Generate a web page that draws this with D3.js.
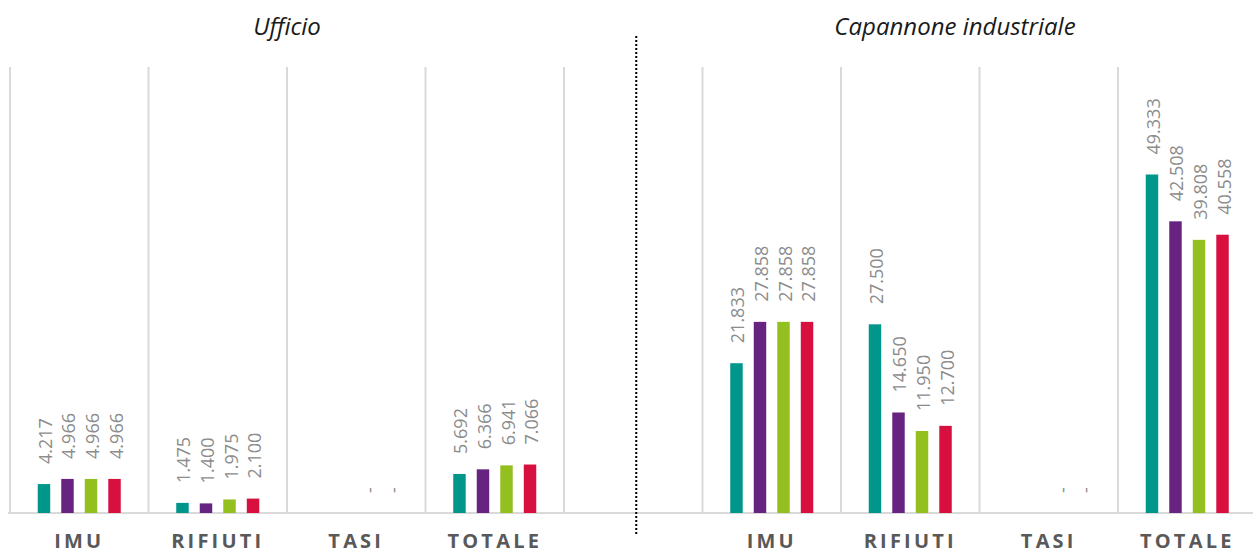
<!DOCTYPE html>
<html><head><meta charset="utf-8">
<script src="https://cdn.jsdelivr.net/npm/d3@7"></script>
<style>
body{margin:0;background:#fff;}
svg{display:block;}
</style></head>
<body>
<svg id="chart" width="1253" height="551"></svg>
<script>
// ---- data ----
const groupTitles = ["Ufficio", "Capannone industriale"];
const categories = ["IMU", "RIFIUTI", "TASI", "TOTALE"];
const seriesNames = ["S1", "S2", "S3", "S4"];
const seriesColors = ["#00968A", "#66237F", "#93C01F", "#D7103F"];
// values in euro, per category, per series (null = no value)
const ufficioIMU     = [4217, 4966, 4966, 4966];
const ufficioRifiuti = [1475, 1400, 1975, 2100];
const ufficioTASI    = [null, null, 0, 0];
const ufficioTotale  = [5692, 6366, 6941, 7066];
const capIMU     = [21833, 27858, 27858, 27858];
const capRifiuti = [27500, 14650, 11950, 12700];
const capTASI    = [null, null, 0, 0];
const capTotale  = [49333, 42508, 39808, 40558];
const yMax = 65000;

const slots = [
  {key:"U-IMU", label:categories[0], values:ufficioIMU},
  {key:"U-RIF", label:categories[1], values:ufficioRifiuti},
  {key:"U-TASI", label:categories[2], values:ufficioTASI},
  {key:"U-TOT", label:categories[3], values:ufficioTotale},
  {key:"GAP", label:"", values:[null,null,null,null]},
  {key:"C-IMU", label:categories[0], values:capIMU},
  {key:"C-RIF", label:categories[1], values:capRifiuti},
  {key:"C-TASI", label:categories[2], values:capTASI},
  {key:"C-TOT", label:categories[3], values:capTotale}
];

const svg = d3.select("#chart");
const pLeft = 10, pRight = 1256.5, pTop = 67, pBottom = 513;

const x0 = d3.scaleBand().domain(slots.map(d=>d.key)).range([pLeft, pRight]).padding(0);
const x1 = d3.scaleBand().domain(seriesNames).range([0, x0.bandwidth()])
  .paddingInner(0.47).paddingOuter(1.18);
const y = d3.scaleLinear().domain([0, yMax]).range([pBottom, pTop]);

const it = d3.formatLocale({decimal:",", thousands:".", grouping:[3], currency:["€",""]});
const fmt = it.format(",.0f");

// gridlines (category separators)
const bounds = slots.map(d=>x0(d.key)).concat([pRight]);
svg.append("g").selectAll("line").data(bounds).join("line")
  .attr("x1", d=>d).attr("x2", d=>d).attr("y1", pTop).attr("y2", pBottom)
  .attr("stroke", "#d9d9d9").attr("stroke-width", 2);

// baseline
svg.append("line").attr("x1", 8).attr("x2", 1253).attr("y1", pBottom).attr("y2", pBottom)
  .attr("stroke", "#d9d9d9").attr("stroke-width", 2);

// bars
const flat = [];
slots.forEach(s => s.values.forEach((v,i) => { if (v !== null) flat.push({slot:s.key, series:seriesNames[i], color:seriesColors[i], value:v}); }));

svg.append("g").selectAll("rect").data(flat.filter(d=>d.value>0)).join("rect")
  .attr("x", d=>x0(d.slot)+x1(d.series))
  .attr("width", x1.bandwidth())
  .attr("y", d=>y(d.value))
  .attr("height", d=>pBottom - y(d.value))
  .attr("fill", d=>d.color);

// value labels
svg.append("g").selectAll("text").data(flat).join("text")
  .attr("transform", d=>`translate(${x0(d.slot)+x1(d.series)+x1.bandwidth()/2+1},${y(d.value)-20}) rotate(-90)`)
  .attr("text-anchor", "start")
  .attr("dominant-baseline", "central")
  .attr("font-family", "'Open Sans', sans-serif")
  .attr("font-size", 18)
  .attr("fill", "#8c8c8c")
  .text(d=>d.value===0 ? "-" : fmt(d.value));

// category labels
const xAxis = d3.axisBottom(x0).tickSize(0).tickFormat(k=>slots.find(s=>s.key===k).label);
const ax = svg.append("g").attr("transform", `translate(0,${pBottom})`).call(xAxis);
ax.select(".domain").remove();
ax.selectAll("text")
  .attr("y", 35)
  .attr("dy", 0)
  .attr("font-family", "'Open Sans', sans-serif")
  .attr("font-weight", "bold")
  .attr("font-size", 20)
  .attr("letter-spacing", "3.2px")
  .attr("fill", "#595959");

// titles
svg.append("text").attr("x", 287).attr("y", 35).attr("text-anchor","middle")
  .attr("font-family","'Open Sans', sans-serif").attr("font-style","italic").attr("font-size",24)
  .attr("fill","#1a1a1a").text(groupTitles[0]);
svg.append("text").attr("x", 955).attr("y", 35).attr("text-anchor","middle")
  .attr("font-family","'Open Sans', sans-serif").attr("font-style","italic").attr("font-size",24)
  .attr("fill","#1a1a1a").text(groupTitles[1]);

// dotted divider
const divX = x0("GAP") + x0.bandwidth()/2 + 3;
svg.append("line").attr("x1", divX).attr("x2", divX).attr("y1", 36).attr("y2", 536)
  .attr("stroke", "#000").attr("stroke-width", 2).attr("stroke-dasharray", "2,2");
</script>
</body></html>
